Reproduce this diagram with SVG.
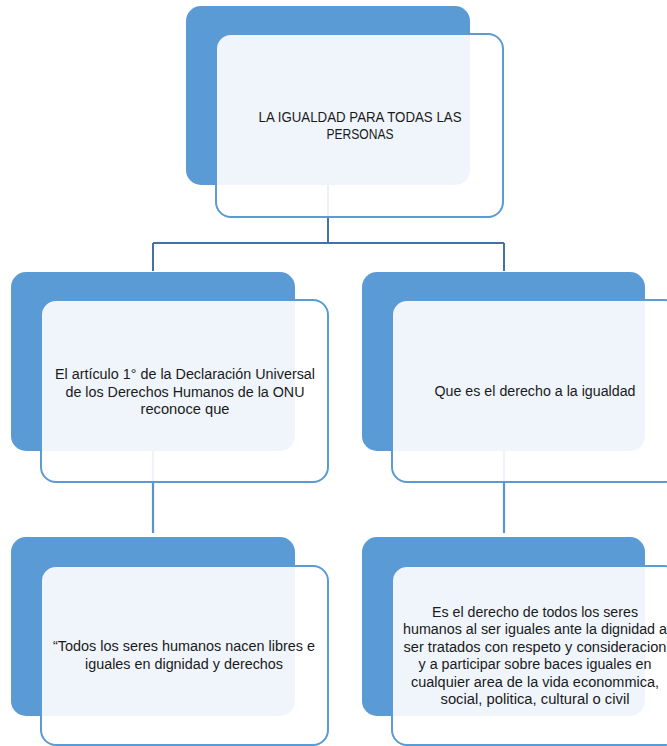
<svg xmlns="http://www.w3.org/2000/svg" width="667" height="746" viewBox="0 0 667 746">
<style>
.back{fill:#5B9BD5;}
.front{fill:#FFFFFF;fill-opacity:0.9;stroke:#5B9BD5;stroke-width:2;}
.t{font-family:"Liberation Sans",Arial,sans-serif;font-size:14px;fill:#1a1a1a;text-anchor:middle;}
.c1{fill:none;stroke:#4472A6;stroke-width:2;}
.c2{fill:none;stroke:#5B93CF;stroke-width:2.2;}
</style>
<rect width="667" height="746" fill="#FFFFFF"/>
<g id="connectors">
<path class="c1" d="M328 185 V243 M153 243 H504 M153 243 V271 M504 243 V271"/>
<path class="c2" d="M153 451 V533 M504 451 V533"/>
</g>
<g id="node-top">
<rect class="back" x="186" y="6" width="284" height="179" rx="15"/>
<rect class="front" x="216" y="34" width="287" height="183" rx="15"/>
<text class="t" x="360" y="122" textLength="203" lengthAdjust="spacingAndGlyphs">LA IGUALDAD PARA TODAS LAS</text>
<text class="t" x="360" y="139" textLength="67" lengthAdjust="spacingAndGlyphs">PERSONAS</text>
</g>
<g id="node-articulo">
<rect class="back" x="11" y="272" width="284" height="179" rx="15"/>
<rect class="front" x="41" y="300" width="287" height="182" rx="15"/>
<text class="t" x="185" y="379" textLength="260" lengthAdjust="spacingAndGlyphs">El artículo 1° de la Declaración Universal</text>
<text class="t" x="185" y="397" textLength="239" lengthAdjust="spacingAndGlyphs">de los Derechos Humanos de la ONU</text>
<text class="t" x="185" y="414" textLength="89" lengthAdjust="spacingAndGlyphs">reconoce que</text>
</g>
<g id="node-que">
<rect class="back" x="362" y="272" width="283" height="179" rx="15"/>
<rect class="front" x="392" y="300" width="287" height="182" rx="15"/>
<text class="t" x="535" y="396" textLength="201" lengthAdjust="spacingAndGlyphs">Que es el derecho a la igualdad</text>
</g>
<g id="node-todos">
<rect class="back" x="11" y="537" width="284" height="179" rx="15"/>
<rect class="front" x="41" y="566" width="287" height="179" rx="15"/>
<text class="t" x="184" y="651" textLength="262" lengthAdjust="spacingAndGlyphs">“Todos los seres humanos nacen libres e</text>
<text class="t" x="184" y="669" textLength="198" lengthAdjust="spacingAndGlyphs">iguales en dignidad y derechos</text>
</g>
<g id="node-es">
<rect class="back" x="362" y="537" width="283" height="179" rx="15"/>
<rect class="front" x="392" y="566" width="287" height="179" rx="15"/>
<text class="t" x="535" y="617" textLength="206" lengthAdjust="spacingAndGlyphs">Es el derecho de todos los seres</text>
<text class="t" x="535" y="634" textLength="264" lengthAdjust="spacingAndGlyphs">humanos al ser iguales ante la dignidad a</text>
<text class="t" x="535" y="652" textLength="263" lengthAdjust="spacingAndGlyphs">ser tratados con respeto y consideracion</text>
<text class="t" x="535" y="669" textLength="233" lengthAdjust="spacingAndGlyphs">y a participar sobre baces iguales en</text>
<text class="t" x="535" y="687" textLength="248" lengthAdjust="spacingAndGlyphs">cualquier area de la vida econommica,</text>
<text class="t" x="535" y="704" textLength="189" lengthAdjust="spacingAndGlyphs">social, politica, cultural o civil</text>
</g>
</svg>
